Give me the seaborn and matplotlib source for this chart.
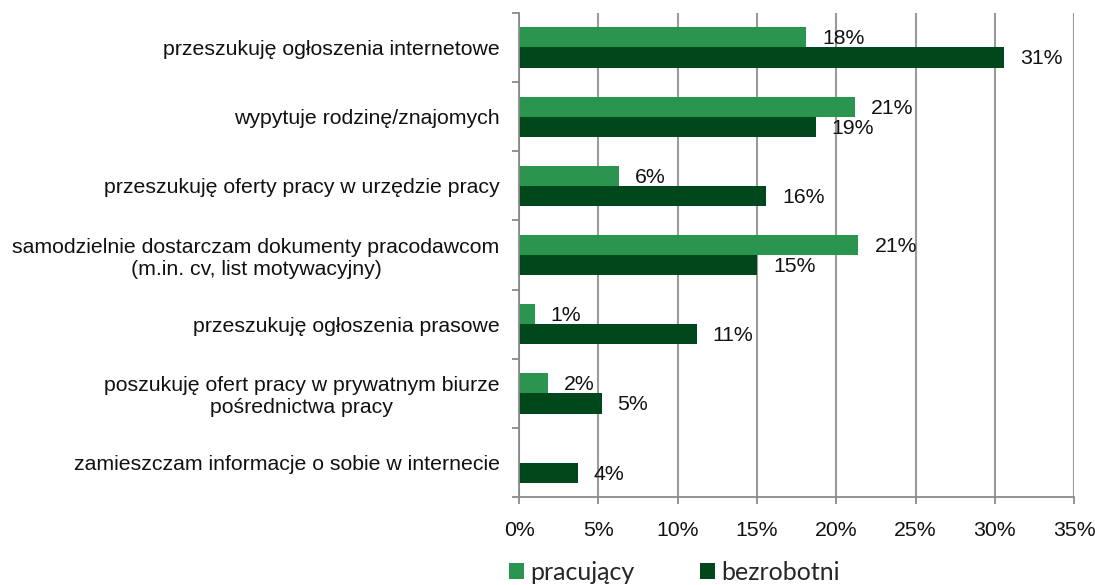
import numpy as np
import pandas as pd
import matplotlib
matplotlib.use("Agg")
import matplotlib.pyplot as plt
from matplotlib.patches import Patch
from matplotlib.ticker import FixedLocator, PercentFormatter
import seaborn as sns

# Job-search methods, share of respondents (%)
categories = [
    "przeszukuję ogłoszenia internetowe",
    "wypytuje rodzinę/znajomych",
    "przeszukuję oferty pracy w urzędzie pracy",
    "samodzielnie dostarczam dokumenty pracodawcom\n(m.in. cv, list motywacyjny)",
    "przeszukuję ogłoszenia prasowe",
    "poszukuję ofert pracy w prywatnym biurze\npośrednictwa pracy",
    "zamieszczam informacje o sobie w internecie",
]
series_names = ["pracujący", "bezrobotni"]
pracujacy = [18.1, 21.2, 6.3, 21.4, 1.0, 1.8, 0.0]
bezrobotni = [30.6, 18.7, 15.6, 15.0, 11.2, 5.2, 3.7]
x_ticks = [0, 5, 10, 15, 20, 25, 30, 35]

colors = {"pracujący": "#2a954e", "bezrobotni": "#00471c"}

df = pd.DataFrame({
    "kategoria": categories * 2,
    "grupa": [series_names[0]] * len(categories) + [series_names[1]] * len(categories),
    "wartosc": pracujacy + bezrobotni,
})

sns.set_style("white")
plt.rcParams["font.family"] = ["Liberation Sans", "DejaVu Sans"]

fig = plt.figure(figsize=(10.95, 5.85), dpi=100)
ax = fig.add_axes([0.474, 0.150, 0.507, 0.828])

sns.barplot(
    data=df, y="kategoria", x="wartosc", hue="grupa", order=categories,
    hue_order=series_names, palette=colors, orient="h", width=0.58,
    gap=0, saturation=1, errorbar=None, legend=False, ax=ax,
    linewidth=0, edgecolor="none",
)

# value labels at the end of each bar
for container, name in zip(ax.containers, series_names):
    for rect in container:
        v = rect.get_width()
        if v <= 0:
            continue
        ax.annotate(
            f"{v:.0f}%", xy=(v, rect.get_y() + rect.get_height() / 2),
            xytext=(11.5, -1), textcoords="offset points",
            ha="left", va="center", fontsize=15.3, color="#111111",
        )

ax.set_xlim(0, 35)
ax.set_ylim(len(categories) - 0.5, -0.5)
ax.xaxis.set_major_locator(FixedLocator(x_ticks))
ax.xaxis.set_major_formatter(PercentFormatter(decimals=0))
ax.set_xlabel("")
ax.set_ylabel("")

grid_color = "#9a9a9a"
ax.grid(axis="x", color=grid_color, linewidth=1.5)
ax.grid(axis="y", visible=False)
ax.set_axisbelow(True)

for side in ["top", "right"]:
    ax.spines[side].set_visible(False)
for side in ["left", "bottom"]:
    ax.spines[side].set_color("#8a8a8a")
    ax.spines[side].set_linewidth(1.3)

# category boundary ticks on the vertical axis
ax.yaxis.set_minor_locator(FixedLocator(np.arange(-0.5, len(categories), 1.0)))
ax.tick_params(axis="y", which="major", length=0, pad=14, labelsize=15.3, labelcolor="#111111")
ax.tick_params(axis="y", which="minor", length=5, width=1.3, color="#8a8a8a", left=True)
ax.tick_params(axis="x", which="major", length=5, width=1.3, color="#8a8a8a",
               bottom=True, pad=12, labelsize=15.3, labelcolor="#111111")
for lbl in ax.get_yticklabels():
    lbl.set_horizontalalignment("right")
    lbl.set_multialignment("center")

handles = [Patch(facecolor=colors[n], edgecolor="none", label=n) for n in series_names]
fig.legend(
    handles=handles, loc="center", bbox_to_anchor=(0.616, 0.022), ncol=2,
    frameon=False, prop={"family": "Lato", "size": 18},
    handlelength=0.6, handleheight=0.6, handletextpad=0.25, columnspacing=2.6,
)

fig.savefig("out.png", dpi=100, facecolor="white")
